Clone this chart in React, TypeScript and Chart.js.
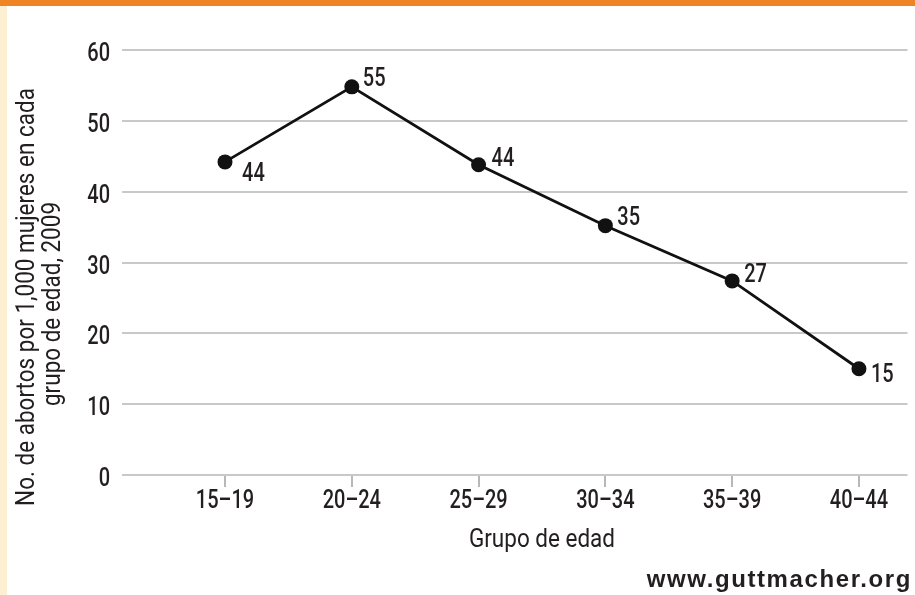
import React, { useEffect, useRef } from "react";
import { Chart, registerables } from "chart.js";

Chart.register(...registerables);

const categories = ["15–19", "20–24", "25–29", "30–34", "35–39", "40–44"];
const abortionRates = [44.2, 54.8, 43.8, 35.2, 27.4, 15.0];
const yTicks = [0, 10, 20, 30, 40, 50, 60];
const yTitleLines = ["No. de abortos por 1,000 mujeres en cada", "grupo de edad, 2009"];
const xTitle = "Grupo de edad";
const sourceText = "www.guttmacher.org";

const FONT = "Roboto, 'DejaVu Sans Condensed', sans-serif";
const TEXT = "#231f20";
const SX = 0.8; // horizontal condensing of the text face

const labelOffsets = [
  [17, 10],
  [11, -10],
  [13, -8],
  [12, -10],
  [12, -8],
  [12, 4],
];

function drawText(
  ctx: CanvasRenderingContext2D,
  text: string,
  x: number,
  y: number,
  size: number,
  align: CanvasTextAlign,
  weight = 500,
  sx = SX,
  rotate = 0
) {
  ctx.save();
  ctx.translate(x, y);
  if (rotate) ctx.rotate(rotate);
  ctx.scale(sx, 1);
  ctx.font = `${weight} ${size}px ${FONT}`;
  ctx.textAlign = align;
  ctx.textBaseline = "alphabetic";
  ctx.fillStyle = TEXT;
  ctx.fillText(text, 0, 0);
  ctx.restore();
}

const extrasPlugin = {
  id: "extras",
  afterDatasetsDraw(chart: any) {
    const ctx = chart.ctx as CanvasRenderingContext2D;
    const xs = chart.scales.x;
    const ys = chart.scales.y;
    const area = chart.chartArea;

    // y tick labels
    yTicks.forEach((v) => {
      drawText(ctx, String(v), 110, ys.getPixelForValue(v) + 11, 25, "right");
    });

    // x tick labels
    categories.forEach((c, i) => {
      drawText(ctx, c, xs.getPixelForValue(i), area.bottom + 33, 25, "center");
    });

    // point value labels
    const meta = chart.getDatasetMeta(0);
    meta.data.forEach((pt: any, i: number) => {
      const [dx, dy] = labelOffsets[i] || [12, -8];
      drawText(ctx, String(Math.round(abortionRates[i])), pt.x + dx, pt.y + dy + 9, 25, "left");
    });

    // y axis title (two rotated lines)
    drawText(ctx, yTitleLines[0], 34, 297, 25, "center", 400, 0.9, -Math.PI / 2);
    drawText(ctx, yTitleLines[1], 60, 304, 25, "center", 400, 0.9, -Math.PI / 2);

    // x axis title centered on categories
    const cx = (xs.getPixelForValue(0) + xs.getPixelForValue(categories.length - 1)) / 2;
    drawText(ctx, xTitle, cx, 547, 25, "center", 400, 0.9);
  },
};

export default function App() {
  const canvasRef = useRef<HTMLCanvasElement>(null);

  useEffect(() => {
    if (!canvasRef.current) return;
    const chart = new Chart(canvasRef.current, {
      type: "line",
      data: {
        datasets: [
          {
            data: abortionRates.map((v, i) => ({ x: i, y: v })),
            borderColor: "#111",
            backgroundColor: "#111",
            borderWidth: 2.8,
            pointRadius: 7.5,
            pointBackgroundColor: "#111",
            pointBorderColor: "#111",
            pointBorderWidth: 0,
            tension: 0,
          },
        ],
      },
      options: {
        animation: false,
        responsive: false,
        devicePixelRatio: 1,
        layout: { padding: { top: 50, left: 0, right: 0, bottom: 0 } },
        plugins: {
          legend: { display: false },
          tooltip: { enabled: false },
          title: { display: false },
        },
        scales: {
          x: {
            type: "linear",
            min: -0.8125,
            max: 5.383,
            afterBuildTicks: (scale: any) => {
              scale.ticks = categories.map((_, i) => ({ value: i }));
            },
            afterFit: (scale: any) => {
              scale.height = 120;
            },
            ticks: { display: false },
            grid: {
              drawOnChartArea: false,
              drawTicks: true,
              tickLength: 12,
              color: "#b8b8b8",
              lineWidth: 2,
            },
            border: { display: false },
          },
          y: {
            min: yTicks[0],
            max: yTicks[yTicks.length - 1],
            afterBuildTicks: (scale: any) => {
              scale.ticks = yTicks.map((v) => ({ value: v }));
            },
            afterFit: (scale: any) => {
              scale.width = 122;
            },
            ticks: { display: false },
            grid: {
              drawTicks: false,
              color: "#c8c8c8",
              lineWidth: 2,
            },
            border: { display: false },
          },
        },
      },
      plugins: [extrasPlugin],
    });
    return () => chart.destroy();
  }, []);

  return (
    <div
      style={{
        position: "fixed",
        left: 0,
        top: 0,
        width: 915,
        height: 595,
        background: "#fff",
        overflow: "hidden",
      }}
    >
      <div style={{ position: "absolute", left: 0, top: 0, width: 7, height: 595, background: "#fdf0d2" }} />
      <canvas
        ref={canvasRef}
        width={915}
        height={595}
        style={{ position: "absolute", left: 0, top: 0, width: 915, height: 595 }}
      />
      <div style={{ position: "absolute", left: 0, top: 0, width: 915, height: 6, background: "#ef8424" }} />
      <div
        style={{
          position: "absolute",
          right: 3,
          top: 564,
          fontFamily: "'Liberation Sans', Arial, sans-serif",
          fontWeight: "bold",
          fontSize: 24,
          letterSpacing: 1.6,
          color: TEXT,
          lineHeight: "30px",
          whiteSpace: "nowrap",
        }}
      >
        {sourceText}
      </div>
    </div>
  );
}
